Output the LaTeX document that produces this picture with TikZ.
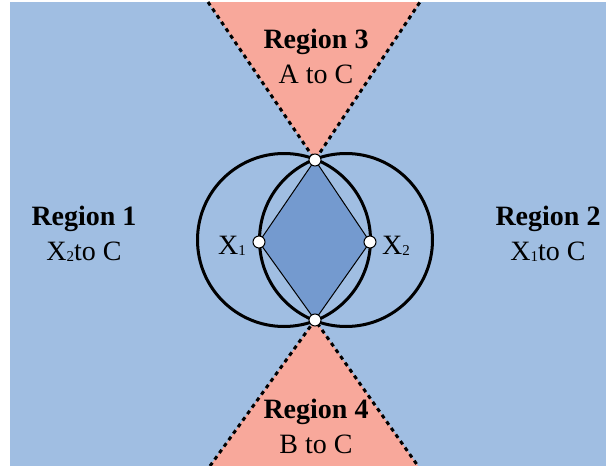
\documentclass[tikz,border=0pt]{standalone}
\usepackage{fontspec}
\setmainfont{Liberation Serif}
\definecolor{bgblue}{RGB}{160,190,226}
\definecolor{salmon}{RGB}{248,168,155}
\definecolor{diamondblue}{RGB}{116,154,207}
\newcommand{\mysub}[1]{\raisebox{-1pt}{\fontsize{15}{15}\selectfont #1}}
\begin{document}
\begin{tikzpicture}[x=1pt,y=-1pt,
  dot/.style={circle,draw=black,fill=white,line width=1pt,minimum size=12pt,inner sep=0pt},
  cone/.style={black,line width=3pt,dash pattern=on 4pt off 4pt},
  ring/.style={black,line width=3pt},
  lbl/.style={anchor=base,inner sep=0pt,font=\fontsize{28}{33}\selectfont},
  bold/.style={lbl,font=\fontsize{28}{33}\selectfont\bfseries}]
\useasboundingbox (0,0) rectangle (606,466);
\fill[bgblue] (10,2) rectangle (606,466);
% named points
\coordinate (TL) at (208,2);
\coordinate (TR) at (420,2);
\coordinate (BL) at (210,466);
\coordinate (BR) at (418,466);
\coordinate (C1) at (284,240);
\coordinate (C2) at (346,240);
\coordinate (PT) at (315,160);
\coordinate (PB) at (315,320);
\coordinate (P1) at (259,242);
\coordinate (P2) at (370,242);
% cones
\fill[salmon] (TL) -- (PT) -- (TR) -- cycle;
\fill[salmon] (BL) -- (PB) -- (BR) -- cycle;
\draw[cone] (TL) -- (PT) -- (TR);
\draw[cone] (BL) -- (PB) -- (BR);
% diamond
\draw[fill=diamondblue,line width=1pt] (PT) -- (P2) -- (PB) -- (P1) -- cycle;
% circles
\draw[ring] (C1) circle[radius=86.5pt];
\draw[ring] (C2) circle[radius=86.5pt];
% markers
\node[dot] (t) at (PT) {};
\node[dot] (b) at (PB) {};
\node[dot] (x1) at (P1) {};
\node[dot] (x2) at (P2) {};
% labels
\node[lbl,anchor=base east] (lx1) at (246,254) {X\mysub{1}};
\node[lbl,anchor=base west] (lx2) at (382,254) {X\mysub{2}};
\node[bold] (r3) at (316,48) {Region 3};
\node[lbl] (r3b) at (316,83) {A to C};
\node[bold] (r4) at (316,418) {Region 4};
\node[lbl] (r4b) at (316,453) {B to C};
\node[bold] (r1) at (84,225) {Region 1};
\node[lbl] (r1b) at (84,260) {X\mysub{2}to C};
\node[bold] (r2) at (548,225) {Region 2};
\node[lbl] (r2b) at (548,260) {X\mysub{1}to C};
\end{tikzpicture}
\end{document}
